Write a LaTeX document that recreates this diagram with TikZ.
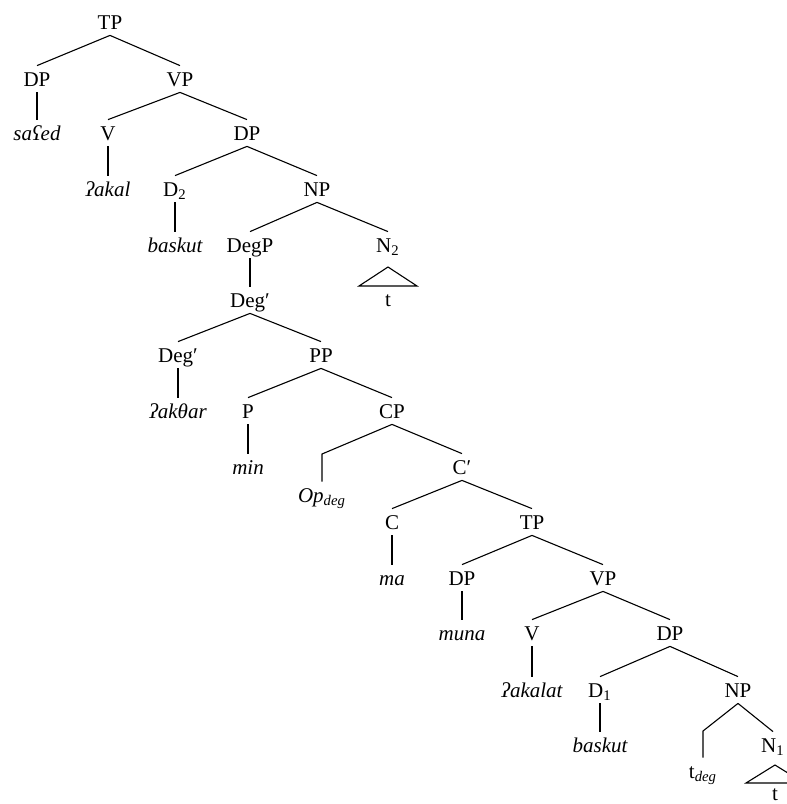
\documentclass[tikz,border=0pt]{standalone}
\usepackage{fontspec}
\setmainfont{Liberation Serif}
\begin{document}
\begin{tikzpicture}[x=0.5pt,y=-0.5pt,
  tn/.style={inner xsep=0pt, inner ysep=3pt, text height=7pt, text depth=0pt, anchor=base, font=\fontsize{10.5}{12}\selectfont},
  tw/.style={tn, font=\fontsize{10.5}{12}\selectfont\itshape},
  br/.style={line width=0.55pt}]
\useasboundingbox (0,0) rectangle (787,804);
% nodes
\node[tn] (tp1) at (110,29) {TP};
\node[tn] (dp1) at (37,86) {DP};
\node[tn] (vp1) at (180,86) {VP};
\node[tw] (w1) at (37,140) {saʕed};
\node[tn] (v1) at (108,140) {V};
\node[tn] (dp2) at (247,140) {DP};
\node[tw] (w2) at (108,196) {ʔakal};
\node[tn] (d2) at (175,196) {D\textsubscript{2}};
\node[tn] (np1) at (317,196) {NP};
\node[tw] (w3) at (175,252) {baskut};
\node[tn] (degp) at (250,252) {DegP};
\node[tn] (n2) at (388,252) {N\textsubscript{2}};
\node[tn] (degb1) at (250,307) {Deg′};
\node[tn] (t1) at (388,306) {t};
\node[tn] (degb2) at (178,362) {Deg′};
\node[tn] (pp) at (321,362) {PP};
\node[tw] (w4) at (178,418) {ʔakθar};
\node[tn] (p) at (248,418) {P};
\node[tn] (cp) at (392,418) {CP};
\node[tw] (w5) at (248,474) {min};
\coordinate (opbend) at (322,454);
\node[tw] (op) at (322,502) {Op\textsubscript{deg}};
\node[tn] (cb) at (462,474) {C′};
\node[tn] (c) at (392,529) {C};
\node[tn] (tp2) at (532,529) {TP};
\node[tw] (w6) at (392,585) {ma};
\node[tn] (dp3) at (462,585) {DP};
\node[tn] (vp2) at (603,585) {VP};
\node[tw] (w7) at (462,640) {muna};
\node[tn] (v2) at (532,640) {V};
\node[tn] (dp4) at (670,640) {DP};
\node[tw] (w8) at (532,697) {ʔakalat};
\node[tn] (d1) at (600,697) {D\textsubscript{1}};
\node[tn] (np2) at (738,697) {NP};
\node[tw] (w9) at (600,752) {baskut};
\coordinate (tdbend) at (703,731);
\node[tn] (tdeg) at (703,778) {t\textsubscript{\itshape deg}};
\node[tn] (n1) at (773,752) {N\textsubscript{1}};
\node[tn] (t2) at (775,800) {t};
\coordinate (tri1) at (388,267);
\coordinate (tri2) at (775,765);
% branches
\draw[br] (tp1.south) -- (dp1.north);
\draw[br] (tp1.south) -- (vp1.north);
\draw[br] (dp1.south) -- (w1.north);
\draw[br] (vp1.south) -- (v1.north);
\draw[br] (vp1.south) -- (dp2.north);
\draw[br] (v1.south) -- (w2.north);
\draw[br] (dp2.south) -- (d2.north);
\draw[br] (dp2.south) -- (np1.north);
\draw[br] (d2.south) -- (w3.north);
\draw[br] (np1.south) -- (degp.north);
\draw[br] (np1.south) -- (n2.north);
\draw[br] (degp.south) -- (degb1.north);
\draw[br] (degb1.south) -- (degb2.north);
\draw[br] (degb1.south) -- (pp.north);
\draw[br] (degb2.south) -- (w4.north);
\draw[br] (pp.south) -- (p.north);
\draw[br] (pp.south) -- (cp.north);
\draw[br] (p.south) -- (w5.north);
\draw[br] (cp.south) -- (opbend) -- (op.north);
\draw[br] (cp.south) -- (cb.north);
\draw[br] (cb.south) -- (c.north);
\draw[br] (cb.south) -- (tp2.north);
\draw[br] (c.south) -- (w6.north);
\draw[br] (tp2.south) -- (dp3.north);
\draw[br] (tp2.south) -- (vp2.north);
\draw[br] (dp3.south) -- (w7.north);
\draw[br] (vp2.south) -- (v2.north);
\draw[br] (vp2.south) -- (dp4.north);
\draw[br] (v2.south) -- (w8.north);
\draw[br] (dp4.south) -- (d1.north);
\draw[br] (dp4.south) -- (np2.north);
\draw[br] (d1.south) -- (w9.north);
\draw[br] (np2.south) -- (tdbend) -- (tdeg.north);
\draw[br] (np2.south) -- (n1.north);
% triangles
\draw[br] (tri1) -- ++(-29,19) -- ++(58,0) -- cycle;
\draw[br] (tri2) -- ++(-29,18) -- ++(58,0) -- cycle;
\end{tikzpicture}
\end{document}
